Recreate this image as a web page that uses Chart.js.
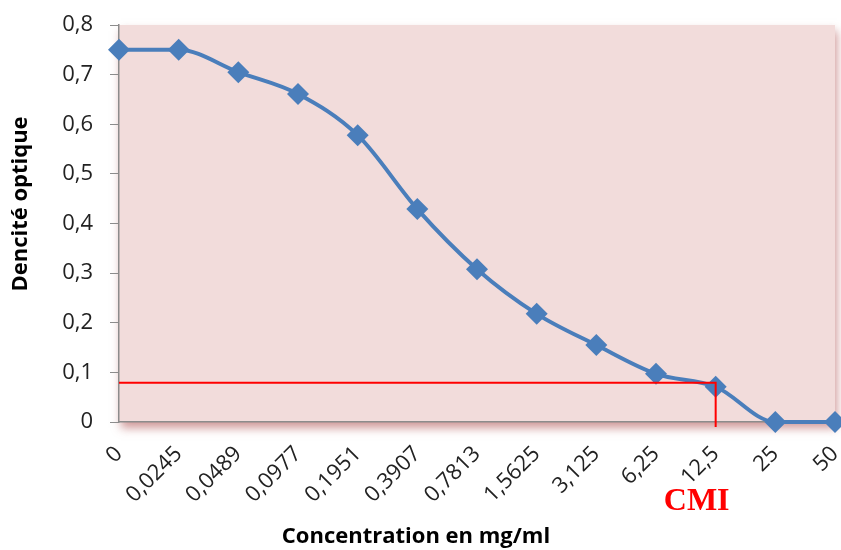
<!DOCTYPE html>
<html>
<head>
<meta charset="utf-8">
<script src="https://cdn.jsdelivr.net/npm/chart.js@4"></script>
<style>
  html, body { margin: 0; padding: 0; background: #fff; }
  #wrap { width: 841px; height: 550px; }
</style>
</head>
<body>
<div id="wrap"><canvas id="do-chart" width="841" height="550"></canvas></div>
<script>
// concentrations (mg/ml) and optical density readings
const concentrations = ["0", "0,0245", "0,0489", "0,0977", "0,1951", "0,3907", "0,7813",
    "1,5625", "3,125", "6,25", "12,5", "25", "50"];
const densities = [0.75, 0.75, 0.705, 0.661, 0.578, 0.429, 0.308, 0.218, 0.155, 0.097, 0.071, 0, 0];
const yTicks = [0, 0.1, 0.2, 0.3, 0.4, 0.5, 0.6, 0.7, 0.8];

// MIC marker: threshold line and the concentration it points to
const cmiLevel = 0.079;
const cmiConcentration = "12,5";

const chartCanvas = document.getElementById('do-chart');
const tickFont = { family: 'Open Sans', size: 22 };

// pink plot area with a soft red shadow, drawn under the series
const plotBackground = {
    id: 'plotBackground',
    beforeDraw(chart) {
        const { ctx, chartArea: a } = chart;
        ctx.save();
        ctx.shadowColor = 'rgba(170, 70, 70, 0.55)';
        ctx.shadowBlur = 9;
        ctx.shadowOffsetX = 2;
        ctx.shadowOffsetY = 6;
        ctx.fillStyle = '#F2DCDB';
        ctx.fillRect(a.left, a.top, a.right - a.left, a.bottom - a.top);
        ctx.restore();
    }
};

// red MIC lines, the "CMI" label and both axis titles
const cmiMarker = {
    id: 'cmiMarker',
    afterDatasetsDraw(chart) {
        const { ctx, chartArea: a } = chart;
        const x = chart.scales.x.getPixelForValue(concentrations.indexOf(cmiConcentration));
        const y = chart.scales.y.getPixelForValue(cmiLevel);
        ctx.save();
        ctx.strokeStyle = '#FF0000';
        ctx.lineWidth = 2;
        ctx.beginPath();
        ctx.moveTo(a.left, y);
        ctx.lineTo(x, y);
        ctx.lineTo(x, a.bottom + 5);
        ctx.stroke();
        ctx.restore();
    },
    afterDraw(chart) {
        const { ctx } = chart;
        const x = chart.scales.x.getPixelForValue(concentrations.indexOf(cmiConcentration));
        ctx.save();
        ctx.fillStyle = '#FF0000';
        ctx.font = 'bold 32px "Liberation Serif"';
        ctx.textAlign = 'center';
        ctx.textBaseline = 'middle';
        ctx.fillText('CMI', x - 19, 502);

        ctx.fillStyle = '#000';
        ctx.font = 'bold 22px "Open Sans"';
        ctx.fillText('Concentration en mg/ml', 416, 537);
        ctx.translate(21, 204);
        ctx.rotate(-Math.PI / 2);
        ctx.fillText('Dencité optique', 0, 0);
        ctx.restore();
    }
};

let densityChart = new Chart(chartCanvas, {
    type: 'line',
    data: {
        labels: concentrations,
        datasets: [{
            data: densities,
            borderColor: '#4A7EBB',
            backgroundColor: '#4A7EBB',
            borderWidth: 4,
            tension: 0.4,
            cubicInterpolationMode: 'monotone',
            pointStyle: 'rectRot',
            pointRadius: 11,
            pointHoverRadius: 11,
            pointBorderWidth: 0,
            clip: false
        }]
    },
    options: {
        responsive: false,
        animation: false,
        layout: { autoPadding: false, padding: { top: 25, right: 6, left: 0, bottom: 0 } },
        scales: {
            x: {
                offset: false,
                grid: { display: false },
                border: { color: '#8C8C8C', width: 1.5 },
                ticks: { color: '#222', font: tickFont, maxRotation: 45, minRotation: 45, autoSkip: false, padding: 11 },
                afterFit(scale) {
                    scale.height = 128;
                    scale.paddingLeft = 0;
                    scale.paddingRight = 0;
                }
            },
            y: {
                min: 0,
                max: 0.8,
                afterBuildTicks(scale) { scale.ticks = yTicks.map(v => ({ value: v })); },
                grid: { drawOnChartArea: false, color: '#8C8C8C', tickLength: 9 },
                border: { color: '#8C8C8C', width: 1.5 },
                ticks: {
                    color: '#222',
                    font: tickFont,
                    padding: 17,
                    callback: v => v === 0 ? '0' : v.toFixed(1).replace('.', ',')
                },
                afterFit(scale) {
                    scale.width = 119;
                    scale.paddingTop = 0;
                    scale.paddingBottom = 0;
                }
            }
        },
        plugins: {
            legend: { display: false },
            tooltip: { enabled: false }
        }
    },
    plugins: [plotBackground, cmiMarker]
});
</script>
</body>
</html>
